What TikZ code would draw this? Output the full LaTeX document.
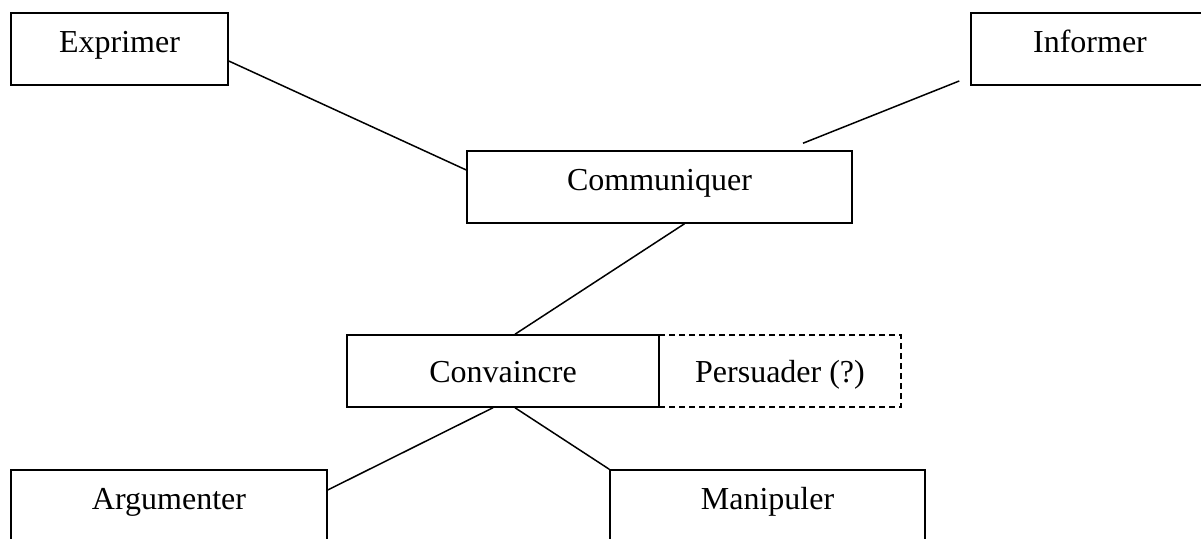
\documentclass[tikz,border=0pt]{standalone}
\usepackage{fontspec}
\setmainfont{Liberation Serif}
\usetikzlibrary{calc}
\tikzset{
	box/.style={draw, line width=0.75pt, inner sep=0pt, minimum height=36pt, text height=11pt, text depth=7pt, font=\fontsize{16}{19}\selectfont},
	low/.style={text height=14pt, text depth=2pt},
	guess/.style={box, low, dash pattern=on 3pt off 2pt}
}
\begin{document}
\begin{tikzpicture}[x=0.5pt,y=0.5pt]
	\useasboundingbox (0,0) rectangle (1201,539);
	\clip (0,0) rectangle (1201,539);

	\node[box, minimum width=108.5pt] (expr) at (119.5,490) {Exprimer};
	\node[box, minimum width=119pt] (info) at (1090,490) {Informer};
	\node[box, minimum width=192.5pt] (comm) at (659.5,352) {Communiquer};
	\node[box, low, minimum width=156pt] (conv) at (503,168) {Convaincre};
	\node[guess, minimum width=121pt] (pers) at (780,168) {Persuader (?)};
	\node[box, minimum width=158pt] (argu) at (169,33) {Argumenter};
	\node[box, minimum width=157.5pt] (mani) at (767.5,33) {Manipuler};

	\draw[line width=0.75pt] ($(expr.east)+(0,-12)$) -- ($(comm.west)+(0,17)$);
	\draw[line width=0.75pt] ($(info.west)+(-11,-32)$) -- ($(comm.north)+(143.5,7)$);
	\draw[line width=0.75pt] ($(comm.south)+(25,0)$) -- ($(conv.north)+(12,0)$);
	\draw[line width=0.75pt] ($(conv.south)+(-10,0)$) -- ($(argu.east)+(0,16)$);
	\draw[line width=0.75pt] ($(conv.south)+(12,0)$) -- (mani.north west);

\end{tikzpicture}
\end{document}
